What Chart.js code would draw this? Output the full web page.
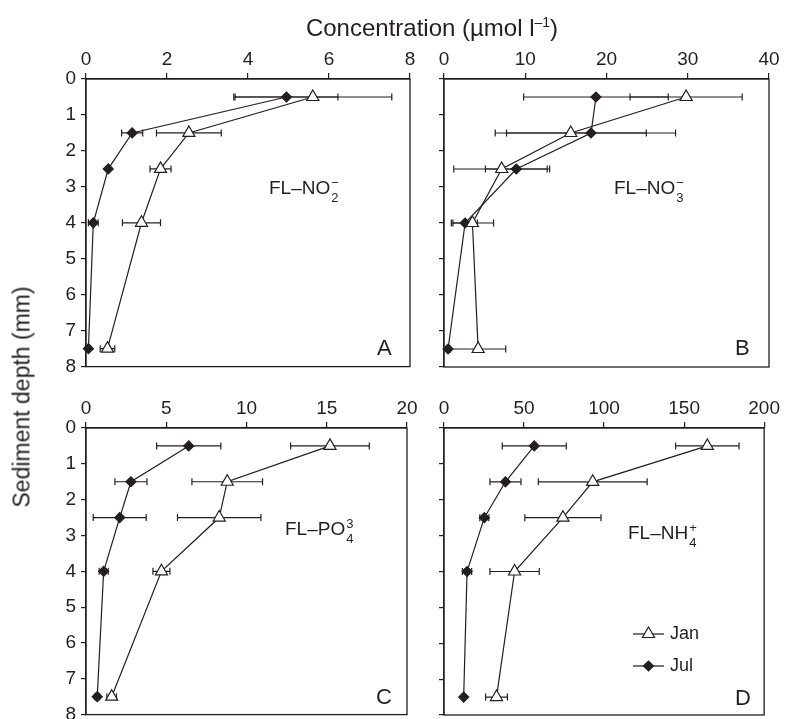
<!DOCTYPE html>
<html>
<head>
<meta charset="utf-8">
<script src="https://cdn.jsdelivr.net/npm/chart.js@4.4.0/dist/chart.umd.min.js"></script>
<style>
html, body { margin: 0; padding: 0; width: 790px; height: 719px; overflow: hidden; background: #fff; }
body { position: relative; font-family: "Liberation Sans", Arial, sans-serif; color: #231f20; }
canvas { position: absolute; }
.txt { position: absolute; white-space: nowrap; }
.ion { font-size: 19px; line-height: 22px; }
.stk { display: inline-block; position: relative; width: 10px; height: 22px; vertical-align: top; }
.sp { position: absolute; left: 1px; top: -5px; font-size: 13px; }
.sb { position: absolute; left: 1px; top: 10px; font-size: 13px; }
.let { font-size: 22px; line-height: 26px; }
</style>
</head>
<body>
<canvas id="chartA"></canvas>
<canvas id="chartB"></canvas>
<canvas id="chartC"></canvas>
<canvas id="chartD"></canvas>

<div class="txt" style="left:0;width:864px;text-align:center;top:7px;font-size:24px;line-height:30px">Concentration (µmol l<span style="font-size:14px;vertical-align:9px">–1</span>)</div>
<div class="txt" style="left:22px;top:397px;font-size:23px;transform:translate(-50%,-50%) rotate(-90deg)">Sediment depth (mm)</div>

<div class="txt ion" style="left:269px;top:177px">FL–NO<span class="stk"><span class="sp">−</span><span class="sb">2</span></span></div>
<div class="txt ion" style="left:614px;top:177px">FL–NO<span class="stk"><span class="sp">−</span><span class="sb">3</span></span></div>
<div class="txt ion" style="left:285px;top:518px">FL–PO<span class="stk"><span class="sp">3</span><span class="sb">4</span></span></div>
<div class="txt ion" style="left:628px;top:522px">FL–NH<span class="stk"><span class="sp">+</span><span class="sb">4</span></span></div>

<div class="txt let" style="left:377px;top:335px">A</div>
<div class="txt let" style="left:735px;top:335px">B</div>
<div class="txt let" style="left:376px;top:684px">C</div>
<div class="txt let" style="left:735px;top:685px">D</div>

<script>
// sampling depths (mm)
const depths = [0.5, 1.5, 2.5, 4, 7.5];

// Panel A: NO2-
const no2Jan = [5.6, 2.54, 1.84, 1.37, 0.53];
const no2JanErr = [1.95, 0.8, 0.26, 0.47, 0.18];
const no2Jul = [4.95, 1.14, 0.55, 0.18, 0.06];
const no2JulErr = [1.27, 0.26, 0, 0.12, 0];

// Panel B: NO3-
const no3Jan = [29.8, 15.6, 7.1, 3.5, 4.2];
const no3JanErr = [6.9, 9.3, 5.9, 2.6, 3.4];
const no3Jul = [18.7, 18.1, 8.9, 2.6, 0.5];
const no3JulErr = [8.9, 10.4, 3.8, 1.5, 0];

// Panel C: PO4 3-
const po4Jan = [15.2, 8.8, 8.3, 4.7, 1.6];
const po4JanErr = [2.45, 2.2, 2.6, 0.53, 0.3];
const po4Jul = [6.4, 2.8, 2.1, 1.1, 0.7];
const po4JulErr = [2.0, 1.0, 1.65, 0.28, 0.15];

// Panel D: NH4+
const nh4Jan = [164.5, 92.9, 74.3, 44.1, 32.8];
const nh4JanErr = [19.8, 34, 23.8, 15.4, 6.8];
const nh4Jul = [56.4, 38.4, 25.2, 14.4, 12.3];
const nh4JulErr = [20, 9.7, 2.8, 2.9, 0];

// axis ranges
const xMaxes = [8, 40, 20, 200];
const xSteps = [2, 10, 5, 50];
const depthMax = 8;

const seriesNames = ['Jan', 'Jul'];

const FONT = '"Liberation Sans", Arial, sans-serif';
const INK = '#231f20';
Chart.defaults.font.family = FONT;
Chart.defaults.color = INK;

// margins around each plot area inside its canvas
const ML = 60, MT = 55, MR = 14, MB = 16;

function toPoints(xs, errs) {
    return xs.map((v, i) => ({ x: v, y: depths[i], e: errs[i] }));
}

// horizontal error bars, drawn under the markers
const errorBars = {
    id: 'errorBars',
    beforeDatasetsDraw(chart) {
        const ctx = chart.ctx, xs = chart.scales.x, ys = chart.scales.y;
        const a = chart.chartArea;
        ctx.save();
        // frame round the plot
        ctx.strokeStyle = INK;
        ctx.lineWidth = 1.3;
        ctx.strokeRect(a.left, a.top, a.right - a.left, a.bottom - a.top);
        ctx.lineWidth = 1.2;
        chart.data.datasets.forEach(ds => {
            ds.data.forEach(p => {
                if (!p.e) return;
                const y = ys.getPixelForValue(p.y);
                const x1 = xs.getPixelForValue(p.x - p.e);
                const x2 = xs.getPixelForValue(p.x + p.e);
                ctx.beginPath();
                ctx.moveTo(x1, y); ctx.lineTo(x2, y);
                ctx.moveTo(x1, y - 3.5); ctx.lineTo(x1, y + 3.5);
                ctx.moveTo(x2, y - 3.5); ctx.lineTo(x2, y + 3.5);
                ctx.stroke();
            });
        });
        ctx.restore();
    }
};

// legend inside panel D: line sample with marker, then label
const sampleLegend = {
    id: 'sampleLegend',
    afterDatasetsDraw(chart) {
        const ctx = chart.ctx, a = chart.chartArea;
        ctx.save();
        chart.data.datasets.forEach((ds, i) => {
            const y = a.top + 206 + i * 32;
            const x0 = a.left + 189, x1 = a.left + 220;
            ctx.strokeStyle = INK;
            ctx.lineWidth = 1.2;
            ctx.beginPath(); ctx.moveTo(x0, y); ctx.lineTo(x1, y); ctx.stroke();
            ctx.fillStyle = ds.pointBackgroundColor;
            Chart.helpers.drawPoint(ctx, {
                pointStyle: ds.pointStyle, radius: ds.pointRadius,
                rotation: 0, borderWidth: ds.pointBorderWidth
            }, (x0 + x1) / 2, y);
            ctx.fillStyle = INK;
            ctx.font = '18px ' + FONT;
            ctx.textBaseline = 'middle';
            ctx.fillText(ds.label, x1 + 6, y);
        });
        ctx.restore();
    }
};

function makeChart(id, box, idx, showY, janX, janErr, julX, julErr, extra) {
    const cv = document.getElementById(id);
    const w = box.r - box.l + ML + MR, h = box.b - box.t + MT + MB;
    cv.width = w; cv.height = h;
    cv.style.left = (box.l - ML) + 'px';
    cv.style.top = (box.t - MT) + 'px';
    cv.style.width = w + 'px';
    cv.style.height = h + 'px';

    const lineStyle = {
        showLine: true, borderColor: INK, borderWidth: 1.2, tension: 0,
        pointBorderColor: INK, pointBorderWidth: 1.2, clip: false
    };

    return new Chart(cv, {
        type: 'scatter',
        data: {
            datasets: [
                Object.assign({
                    label: seriesNames[0],
                    data: toPoints(janX, janErr),
                    pointStyle: 'triangle', pointRadius: 7,
                    pointBackgroundColor: '#fff'
                }, lineStyle),
                Object.assign({
                    label: seriesNames[1],
                    data: toPoints(julX, julErr),
                    pointStyle: 'rectRot', pointRadius: 5,
                    pointBackgroundColor: INK
                }, lineStyle)
            ]
        },
        options: {
            responsive: false,
            animation: false,
            layout: { padding: { left: 0, top: 0, right: MR, bottom: MB } },
            plugins: { legend: { display: false }, tooltip: { enabled: false } },
            scales: {
                x: {
                    type: 'linear', position: 'top', min: 0, max: xMaxes[idx],
                    ticks: { stepSize: xSteps[idx], padding: 2, color: INK, font: { size: 19 } },
                    grid: { drawOnChartArea: false, tickLength: 6, color: INK, lineWidth: 1.2 },
                    border: { color: INK, width: 1.3 },
                    afterFit: s => { s.height = MT; }
                },
                y: {
                    type: 'linear', reverse: true, min: 0, max: depthMax,
                    ticks: { stepSize: 1, padding: 5, display: showY, color: INK, font: { size: 19 } },
                    grid: { drawOnChartArea: false, tickLength: 5, color: INK, lineWidth: 1.2 },
                    border: { color: INK, width: 1.3 },
                    afterFit: s => { s.width = ML; }
                }
            }
        },
        plugins: [errorBars].concat(extra || [])
    });
}

makeChart('chartA', { l: 86, t: 79, r: 410, b: 367 }, 0, true, no2Jan, no2JanErr, no2Jul, no2JulErr);
makeChart('chartB', { l: 444, t: 79, r: 769, b: 367 }, 1, false, no3Jan, no3JanErr, no3Jul, no3JulErr);
makeChart('chartC', { l: 86, t: 428, r: 407, b: 715 }, 2, true, po4Jan, po4JanErr, po4Jul, po4JulErr);
makeChart('chartD', { l: 444, t: 428, r: 768, b: 715 }, 3, false, nh4Jan, nh4JanErr, nh4Jul, nh4JulErr, [sampleLegend]);
</script>
</body>
</html>
